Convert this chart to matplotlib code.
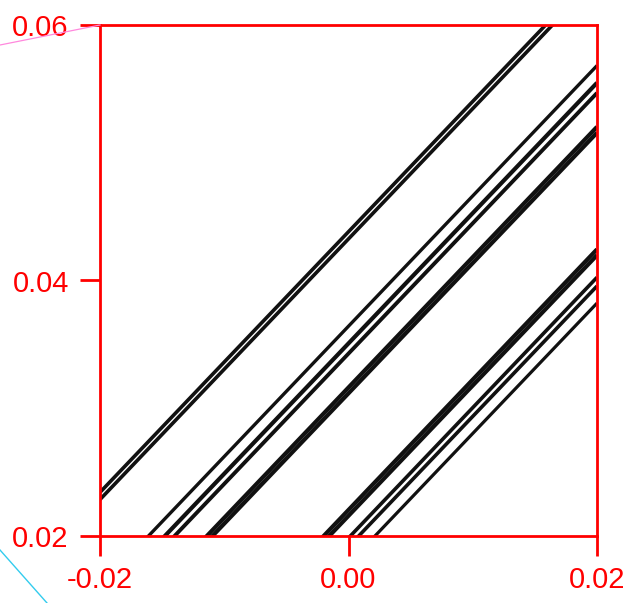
import numpy as np
import matplotlib
matplotlib.use("Agg")
import matplotlib.pyplot as plt
from matplotlib.lines import Line2D

# Data: strands of the attractor, each a straight line y = 0.02 + slope*(x - x0)
slope = 1.02
line_x0 = [-0.02335, -0.02280,   # top-left double strand
           -0.01610,             # thin strand
           -0.01478, -0.01400,   # pair
           -0.01140, -0.01095,   # thick band
           -0.00200, -0.00155,   # thick band
            0.00015,  0.00082,   # pair
            0.00213]             # thin strand
line_w = [2.6, 2.6, 2.4, 3.0, 2.8, 3.0, 3.0, 3.0, 3.0, 2.6, 2.6, 2.3]

xlim = (-0.02, 0.02)
ylim = (0.02, 0.06)
xticks = [-0.02, 0.00, 0.02]
xtick_labels = ["-0.02", "0.00", "0.02"]
yticks = [0.02, 0.04, 0.06]
ytick_labels = ["0.02", "0.04", "0.06"]

fig = plt.figure(figsize=(6.29, 6.03), dpi=100)
ax = fig.add_axes([100/629, 1-536/603, 497/629, 511/603])

xs = np.array(xlim)
for x0, w in zip(line_x0, line_w):
    ax.plot(xs, ylim[0] + slope*(xs - x0), color="#111111", lw=w,
            solid_capstyle="butt")

ax.set_xlim(*xlim)
ax.set_ylim(*ylim)
ax.set_xticks(xticks)
ax.set_xticklabels(xtick_labels)
ax.set_yticks(yticks)
ax.set_yticklabels(ytick_labels)

red = "#ff0000"
for s in ax.spines.values():
    s.set_color(red)
    s.set_linewidth(2.0)
ax.tick_params(direction="out", length=14.5, width=2.0, color=red,
               labelcolor=red, labelsize=21)
ax.tick_params(axis="x", pad=7)
ax.tick_params(axis="y", pad=8)
for lab in ax.get_xticklabels() + ax.get_yticklabels():
    lab.set_fontfamily("Liberation Sans")

# zoom connector decorations outside the axes (figure pixel coords)
W, H = 629, 603
fig.add_artist(Line2D([0/W, 100/W], [1-45/H, 1-25/H], color="#ff88dd", lw=0.9,
                      transform=fig.transFigure))
fig.add_artist(Line2D([0/W, 47/W], [1-550/H, 1-603/H], color="#33ccee", lw=1.0,
                      transform=fig.transFigure))

fig.savefig("out.png", dpi=100)
